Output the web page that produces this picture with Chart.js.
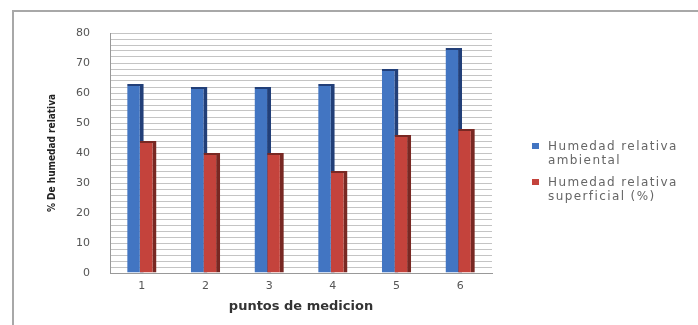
<!DOCTYPE html>
<html>
<head>
<meta charset="utf-8">
<script src="https://cdn.jsdelivr.net/npm/chart.js@4"></script>
<style>
  html, body { margin: 0; padding: 0; background: #fff; }
  #wrap { position: relative; width: 698px; height: 325px; overflow: hidden; }
  #frame { position: absolute; left: 12px; top: 10px; width: 700px; height: 330px;
           border-top: 2px solid #a8a8a8; border-left: 2px solid #a8a8a8; box-sizing: border-box; }
  canvas { position: absolute; left: 0; top: 0; }
  #legend { position: absolute; left: 532px; top: 139px; font-family: "DejaVu Sans", sans-serif;
            font-size: 12px; color: #666; line-height: 14px; letter-spacing: 1.4px; }
  .item { position: relative; padding-left: 16px; margin-bottom: 8px; }
  .sw { position: absolute; left: 0; top: 4px; width: 7px; height: 6px; }
</style>
</head>
<body>
<div id="wrap">
  <div id="frame"></div>
  <canvas id="c" width="698" height="325"></canvas>
  <div id="legend"></div>
</div>
<script>
// measurement points along the x axis
const puntos = ['1', '2', '3', '4', '5', '6'];
// ambient relative humidity (%)
const humedadAmbiental = [63, 62, 62, 63, 68, 75];
// surface relative humidity (%)
const humedadSuperficial = [44, 40, 40, 34, 46, 48];
// series names shown in the legend
const nombresSeries = [['Humedad relativa', 'ambiental'], ['Humedad relativa', 'superficial (%)']];
const colores = ['#4275c2', '#c4433c'];
const coloresLado = ['#223f78', '#782823'];

// the second series overlaps the first one, so it is painted after it
const frontSeries = {
  id: 'frontSeries',
  beforeDatasetDraw(chart, args) {
    if (args.index === 1 && !chart.$front) return false;
  },
  afterDatasetsDraw(chart) {
    const area = chart.chartArea;
    const c = chart.ctx;
    c.save();
    c.beginPath();
    c.rect(area.left, area.top - 5, area.right - area.left, area.bottom - area.top + 5);
    c.clip();
    chart.$front = true;
    chart.getDatasetMeta(1).controller.draw();
    chart.$front = false;
    c.restore();
  }
};

const ctx = document.getElementById('c');
new Chart(ctx, {
  type: 'bar',
  data: {
    labels: puntos,
    datasets: [
      {
        label: nombresSeries[0].join(' '),
        data: humedadAmbiental,
        backgroundColor: colores[0],
        borderColor: coloresLado[0],
        borderWidth: { top: 2, right: 4, bottom: 0, left: 0 },
        borderSkipped: false,
        categoryPercentage: 0.4,
        barPercentage: 1.3
      },
      {
        label: nombresSeries[1].join(' '),
        data: humedadSuperficial,
        backgroundColor: colores[1],
        borderColor: coloresLado[1],
        borderWidth: { top: 2, right: 4, bottom: 0, left: 0 },
        borderSkipped: false,
        categoryPercentage: 0.4,
        barPercentage: 1.3
      }
    ]
  },
  options: {
    responsive: false,
    animation: false,
    layout: { padding: { left: 44, right: 206, top: 33, bottom: 0 } },
    plugins: { legend: { display: false }, tooltip: { enabled: false } },
    scales: {
      x: {
        grid: { display: false, drawTicks: false },
        border: { display: true, color: '#999', width: 1 },
        ticks: { color: '#555', font: { family: 'DejaVu Sans', size: 11 }, padding: 7 },
        title: {
          display: true, text: 'puntos de medicion', color: '#333',
          font: { family: 'DejaVu Sans', size: 13, weight: 'bold' },
          padding: { top: 0, bottom: 11 }
        },
        afterFit: (s) => { s.height = 52; }
      },
      y: {
        min: 0, max: 80,
        grid: { color: '#c4c4c4', lineWidth: 1, drawTicks: false },
        border: { display: true, color: '#999', width: 1 },
        ticks: {
          stepSize: 2, autoSkip: false, padding: 20, color: '#555',
          font: { family: 'DejaVu Sans', size: 11 },
          callback: (v) => (v % 10 === 0 ? String(v) : '')
        },
        title: {
          display: true, text: '% De humedad relativa', color: '#222',
          font: { family: 'DejaVu Sans Condensed', size: 10, weight: 'bold' },
          padding: { top: 2, bottom: 0 }
        },
        afterFit: (s) => { s.width = 66; }
      }
    }
  },
  plugins: [frontSeries]
});

// legend entries
const leg = document.getElementById('legend');
nombresSeries.forEach((lines, i) => {
  const it = document.createElement('div');
  it.className = 'item';
  const sw = document.createElement('span');
  sw.className = 'sw';
  sw.style.background = colores[i];
  it.appendChild(sw);
  lines.forEach((t) => { const d = document.createElement('div'); d.textContent = t; it.appendChild(d); });
  leg.appendChild(it);
});
</script>
</body>
</html>
